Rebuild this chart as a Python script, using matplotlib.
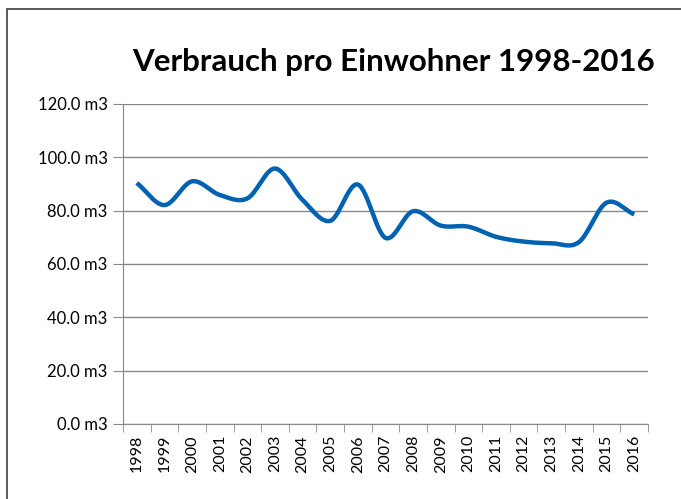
import numpy as np
import matplotlib.pyplot as plt
from matplotlib.patches import Rectangle

years = [str(y) for y in range(1998, 2017)]
verbrauch = [90.4, 82.1, 91.0, 85.9, 84.6, 95.8, 84.0, 76.2, 89.8, 69.8,
             79.8, 74.4, 74.0, 70.2, 68.4, 67.8, 68.2, 83.0, 78.6]
yticks = [0, 20, 40, 60, 80, 100, 120]


def catmull_rom(x, y, n=30):
    # smoothed line like the spreadsheet "smoothed line" option
    x = np.asarray(x, float)
    y = np.asarray(y, float)
    px = np.concatenate([[2 * x[0] - x[1]], x, [2 * x[-1] - x[-2]]])
    py = np.concatenate([[2 * y[0] - y[1]], y, [2 * y[-1] - y[-2]]])
    xs, ys = [], []
    t = np.linspace(0, 1, n, endpoint=False)
    for i in range(1, len(px) - 2):
        for p, out in ((px, xs), (py, ys)):
            p0, p1, p2, p3 = p[i - 1], p[i], p[i + 1], p[i + 2]
            out.append(0.5 * ((2 * p1) + (-p0 + p2) * t
                              + (2 * p0 - 5 * p1 + 4 * p2 - p3) * t ** 2
                              + (-p0 + 3 * p1 - 3 * p2 + p3) * t ** 3))
    xs.append([x[-1]])
    ys.append([y[-1]])
    return np.concatenate(xs), np.concatenate(ys)


plt.rcParams["font.family"] = ["Lato", "DejaVu Sans"]

fig = plt.figure(figsize=(6.81, 4.99), dpi=100)
fig.patches.append(Rectangle((7 / 681, -0.1), 1.2, 1 - 9 / 499 + 0.1,
                             transform=fig.transFigure, fill=False,
                             edgecolor="#404040", linewidth=1.2))

ax = fig.add_axes([123 / 681, 1 - 424 / 499, (648 - 123) / 681, 320 / 499])

x = np.arange(len(years))
sx, sy = catmull_rom(x, verbrauch)
ax.plot(sx, sy, color="#0062b1", linewidth=3.2, solid_capstyle="butt", zorder=3)

ax.set_xlim(-0.5, len(years) - 0.5)
ax.set_ylim(0, 120)
ax.set_yticks(yticks)
ax.set_yticklabels([f"{v:.1f} m3" for v in yticks], fontsize=12)
ax.set_xticks(x)
ax.set_xticklabels(years, rotation=90, fontsize=11.5)
ax.set_xticks(np.arange(len(years) + 1) - 0.5, minor=True)
ax.tick_params(axis="x", which="major", length=0, pad=8)
ax.tick_params(axis="x", which="minor", length=6, color="#888888")
ax.tick_params(axis="y", length=7, color="#888888", pad=4)

ax.grid(axis="y", color="#888888", linewidth=1)
ax.set_axisbelow(True)
for s in ["top", "right"]:
    ax.spines[s].set_visible(False)
for s in ["left", "bottom"]:
    ax.spines[s].set_color("#888888")

fig.text(393 / 681, 1 - 62 / 499, "Verbrauch pro Einwohner 1998-2016",
         ha="center", va="center", fontsize=22.5, fontweight="bold")

fig.savefig("out.png", dpi=100)
